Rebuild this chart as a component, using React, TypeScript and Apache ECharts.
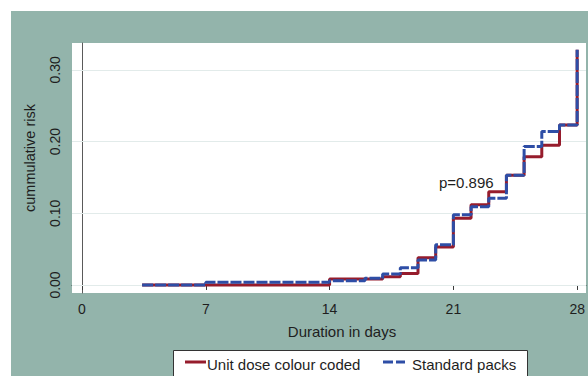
import React, { useEffect, useRef } from "react";
import * as echarts from "echarts";

const xTicks = [0, 7, 14, 21, 28];
const yTicks = [0, 0.1, 0.2, 0.3];
const seriesNames = ["Unit dose colour coded", "Standard packs"];
const unitDoseTimes = [3.4, 14, 17, 18, 19, 20, 21, 22, 23, 24, 25, 26, 27, 28];
const unitDoseRisk = [0, 0.0084, 0.0116, 0.016, 0.038, 0.053, 0.093, 0.112, 0.13, 0.153, 0.179, 0.195, 0.223, 0.328];
const standardTimes = [3.4, 7, 14, 16, 17, 18, 19, 20, 21, 22, 23, 24, 25, 26, 27, 28];
const standardRisk = [0, 0.0037, 0.006, 0.0093, 0.0153, 0.024, 0.035, 0.056, 0.098, 0.109, 0.121, 0.153, 0.193, 0.214, 0.223, 0.328];
const pValueText = "p=0.896";
const xTitle = "Duration in days";
const yTitle = "cummulative risk";

const FONT = "'Liberation Sans', Arial, Helvetica, sans-serif";
const RED = "#961c2c";
const BLUE = "#2e4ea6";
const TEXT = "#1e1e1e";

export default function App() {
  const ref = useRef<HTMLDivElement>(null);
  useEffect(() => {
    if (!ref.current) return;
    const chart = echarts.init(ref.current, undefined, { renderer: "svg" });
    chart.setOption({
      animation: false,
      backgroundColor: "transparent",
      textStyle: { fontFamily: FONT },
      grid: {
        left: 72,
        top: 43,
        right: 2,
        bottom: 83,
        show: true,
        backgroundColor: "#ffffff",
        borderWidth: 0,
      },
      xAxis: {
        type: "value",
        min: -0.566,
        max: 28.5,
        axisLine: { show: true, lineStyle: { color: "#3a3a3a", width: 1 } },
        axisTick: { show: true, length: 5, customValues: xTicks, lineStyle: { color: "#3a3a3a" } },
        axisLabel: {
          customValues: xTicks,
          margin: 9,
          fontSize: 14,
          color: TEXT,
          fontFamily: FONT,
        },
        splitLine: { show: false },
      },
      yAxis: {
        type: "value",
        min: -0.0112,
        max: 0.3375,
        axisLine: { show: true, lineStyle: { color: "#5a5a5a", width: 1 } },
        axisTick: { show: true, length: 5, customValues: yTicks, lineStyle: { color: "#3a3a3a" } },
        axisLabel: {
          customValues: yTicks,
          rotate: 90,
          margin: 10,
          fontSize: 14,
          color: TEXT,
          fontFamily: FONT,
          formatter: (v: number) => v.toFixed(2),
        },
        splitLine: { show: false },
      },
      series: [
        {
          type: "line",
          name: "grid",
          data: [],
          silent: true,
          z: 1,
          markLine: {
            silent: true,
            symbol: "none",
            label: { show: false },
            lineStyle: { color: "#e2ebea", width: 1, type: "solid" },
            data: yTicks.map((v) => ({ yAxis: v })),
          },
        },
        {
          type: "line",
          name: seriesNames[0],
          step: "end",
          showSymbol: false,
          z: 10,
          data: unitDoseTimes.map((t, i) => [t, unitDoseRisk[i]]),
          lineStyle: { color: RED, width: 3 },
          itemStyle: { color: RED },
        },
        {
          type: "line",
          name: seriesNames[1],
          step: "end",
          showSymbol: false,
          z: 11,
          data: standardTimes.map((t, i) => [t, standardRisk[i]]),
          lineStyle: { color: BLUE, width: 3, type: [11, 2] },
          itemStyle: { color: BLUE },
        },
      ],
      graphic: [
        {
          type: "text",
          x: 439,
          y: 182,
          style: { text: pValueText, font: `15px ${FONT}`, fill: TEXT, textVerticalAlign: "middle", verticalAlign: "middle" },
        },
        {
          type: "text",
          x: 342,
          y: 331,
          style: { text: xTitle, font: `15px ${FONT}`, fill: TEXT, align: "center", verticalAlign: "middle" },
        },
        {
          type: "text",
          x: 30,
          y: 158,
          rotation: Math.PI / 2,
          style: { text: yTitle, font: `14.5px ${FONT}`, fill: TEXT, align: "center", verticalAlign: "middle" },
        },
        {
          type: "rect",
          shape: { x: 173.5, y: 350.5, width: 354, height: 40 },
          style: { fill: "#ffffff", stroke: "#333333", lineWidth: 1 },
        },
        {
          type: "line",
          shape: { x1: 185, y1: 362, x2: 206, y2: 362 },
          style: { stroke: RED, lineWidth: 3 },
        },
        {
          type: "text",
          x: 207,
          y: 364,
          style: { text: seriesNames[0], font: `15px ${FONT}`, fill: TEXT, verticalAlign: "middle" },
        },
        {
          type: "line",
          shape: { x1: 383, y1: 362, x2: 405, y2: 362 },
          style: { stroke: BLUE, lineWidth: 3, lineDash: [10, 3] },
        },
        {
          type: "text",
          x: 412,
          y: 364,
          style: { text: seriesNames[1], font: `15px ${FONT}`, fill: TEXT, verticalAlign: "middle" },
        },
      ],
    });
    return () => chart.dispose();
  }, []);

  return (
    <div style={{ position: "absolute", left: 0, top: 0, width: 588, height: 376, background: "#ffffff", overflow: "hidden" }}>
      <div style={{ position: "absolute", left: 11, top: 11, right: 0, bottom: 0, background: "#93b4ab" }} />
      <div ref={ref} style={{ position: "absolute", left: 0, top: 0, width: 588, height: 376 }} />
    </div>
  );
}
